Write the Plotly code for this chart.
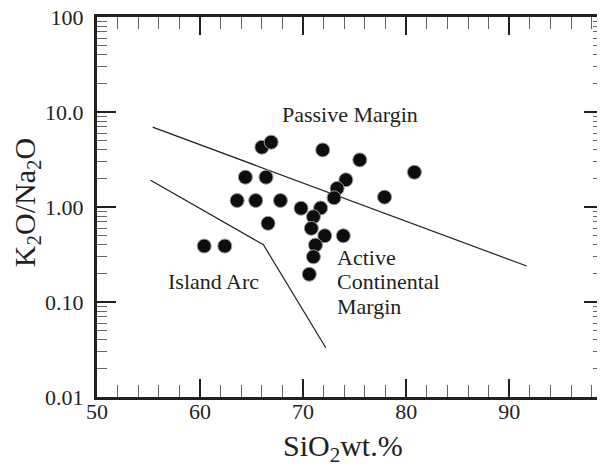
import math
import plotly.graph_objects as go

# sample data: SiO2 (wt.%) and K2O/Na2O
sio2 = [66.0, 66.9, 71.9, 75.5, 74.15, 73.3, 73.0, 77.9, 80.8, 64.4, 66.4,
        63.6, 65.4, 67.8, 69.8, 71.7, 71.0, 66.6, 70.8, 72.1, 73.9, 71.2,
        71.0, 70.6, 60.4, 62.4]
k2o_na2o = [4.26, 4.81, 3.99, 3.13, 1.93, 1.57, 1.25, 1.27, 2.32, 2.06, 2.06,
            1.17, 1.17, 1.17, 0.97, 0.976, 0.79, 0.673, 0.596, 0.498, 0.498, 0.397,
            0.299, 0.196, 0.388, 0.388]

# discrimination boundaries
pm_x = [55.4, 91.7]
pm_y = [6.93, 0.239]
ia_x = [55.2, 66.15, 72.2]
ia_y = [1.91, 0.40, 0.033]

# field labels
field_text = ["Passive Margin", "Island Arc", "Active", "Continental", "Margin"]
field_x = [74.56, 61.3, 73.1, 73.1, 73.1]
field_y = [9.3, 0.163, 0.297, 0.166, 0.0903]
field_anchor = ["center", "center", "left", "left", "left"]

x_ticks = [50, 60, 70, 80, 90]
y_tickvals = [100, 10, 1, 0.1, 0.01]
y_ticktext = ["100", "10.0", "1.00", "0.10", "0.01"]

INK = "#231f20"
FONT = "Times New Roman, Liberation Serif, Times, serif"

fig = go.Figure()
fig.add_trace(go.Scatter(x=pm_x, y=pm_y, mode="lines",
                         line=dict(color=INK, width=1.2), hoverinfo="skip"))
fig.add_trace(go.Scatter(x=ia_x, y=ia_y, mode="lines",
                         line=dict(color=INK, width=1.2), hoverinfo="skip"))
fig.add_trace(go.Scatter(x=sio2, y=k2o_na2o, mode="markers",
                         marker=dict(size=14, color="#0d0d0d",
                                     line=dict(color="#9a9a9a", width=1))))

for t, x, y, a in zip(field_text, field_x, field_y, field_anchor):
    fig.add_annotation(x=x, y=math.log10(y), text=t, showarrow=False,
                       xanchor=a, yanchor="middle", align="left",
                       font=dict(family=FONT, size=22, color=INK))

# axis titles
fig.add_annotation(xref="paper", yref="paper", x=0.486, y=0, yshift=-51,
                   xanchor="center", yanchor="middle", showarrow=False,
                   text="SiO<sub>2</sub>wt.%", font=dict(family=FONT, size=30, color=INK))
fig.add_annotation(xref="paper", yref="paper", x=0, xshift=-70, y=0.51,
                   xanchor="center", yanchor="middle", showarrow=False, textangle=-90,
                   text="K<sub>2</sub>O/Na<sub>2</sub>O", font=dict(family=FONT, size=30, color=INK))

# page body has an 8 px default margin, so the figure is sized to land the frame where intended
fig.update_layout(
    width=597, height=461,
    margin=dict(l=89, r=2, t=9, b=72),
    paper_bgcolor="white", plot_bgcolor="white",
    showlegend=False,
    font=dict(family=FONT, color=INK, size=22),
)
fig.update_xaxes(
    range=[50, 99.1], tickvals=x_ticks, ticks="inside", ticklen=18, tickwidth=2,
    tickcolor=INK, showline=True, linewidth=3, linecolor=INK, mirror="ticks",
    showgrid=False, zeroline=False, automargin=False, ticklabelstandoff=-7,
    ticklabeloverflow="allow",
    tickfont=dict(family=FONT, size=22, color=INK),
    minor=dict(dtick=2, ticks="inside", ticklen=12, tickwidth=1.2, tickcolor="#666", showgrid=False),
)
fig.update_yaxes(
    type="log", range=[-2, 2], tickvals=y_tickvals, ticktext=y_ticktext,
    ticks="inside", ticklen=19, tickwidth=2, tickcolor=INK,
    showline=True, linewidth=3, linecolor=INK, mirror="ticks",
    showgrid=False, zeroline=False, automargin=False, ticklabelstandoff=6,
    ticklabeloverflow="allow",
    tickfont=dict(family=FONT, size=22, color=INK),
    minor=dict(dtick="D1", ticks="inside", ticklen=10, tickwidth=1.2, tickcolor="#666", showgrid=False),
)

fig.write_html("out.html")
